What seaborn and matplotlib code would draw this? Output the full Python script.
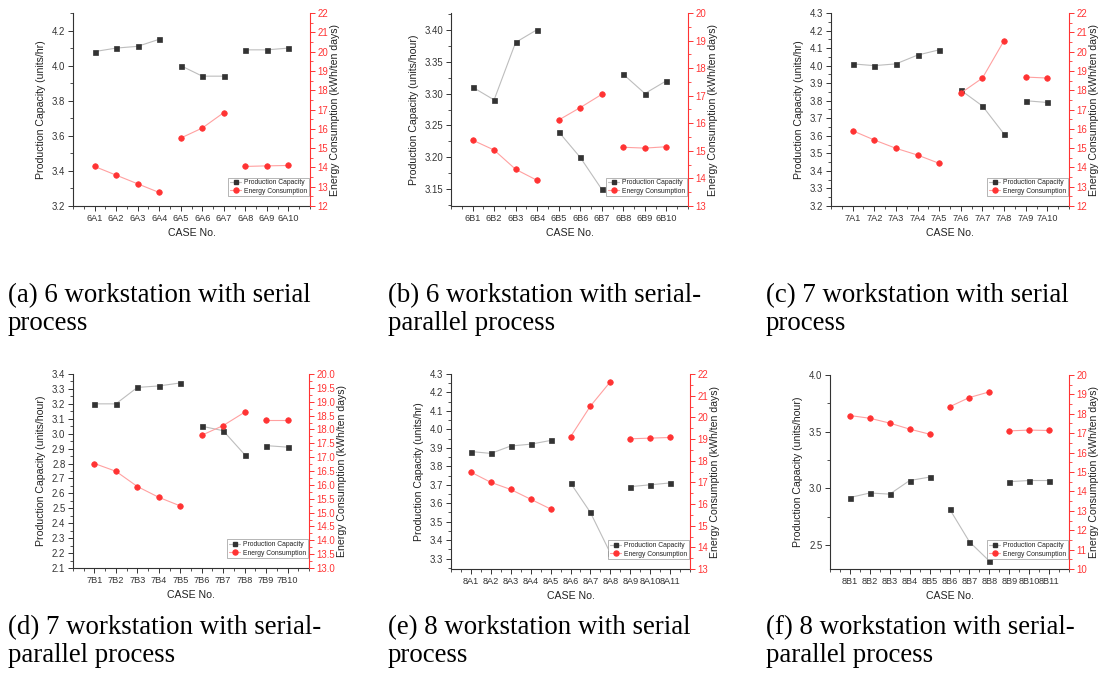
import numpy as np
import pandas as pd
import matplotlib
matplotlib.use("Agg")
import matplotlib.pyplot as plt
import seaborn as sns
from matplotlib.ticker import MultipleLocator, FormatStrFormatter, FixedLocator
from matplotlib.lines import Line2D

sns.set_theme(style="ticks")
plt.rcParams['font.family'] = ['Liberation Sans', 'DejaVu Sans']

# ---------------- data ----------------
cases_a = ["6A1", "6A2", "6A3", "6A4", "6A5", "6A6", "6A7", "6A8", "6A9", "6A10"]
pc_a = [4.08, 4.10, 4.11, 4.15, 4.00, 3.94, 3.94, 4.09, 4.09, 4.10]
ec_a = [14.05, 13.60, 13.15, 12.70, 15.52, 16.04, 16.84, 14.05, 14.08, 14.10]
grp_a = [1, 1, 1, 1, 2, 2, 2, 3, 3, 3]

cases_b = ["6B1", "6B2", "6B3", "6B4", "6B5", "6B6", "6B7", "6B8", "6B9", "6B10"]
pc_b = [3.31, 3.29, 3.38, 3.40, 3.24, 3.20, 3.15, 3.33, 3.30, 3.32]
ec_b = [15.39, 15.03, 14.33, 13.93, 16.12, 16.57, 17.05, 15.13, 15.10, 15.15]
grp_b = [1, 1, 1, 1, 2, 2, 2, 3, 3, 3]

cases_c = ["7A1", "7A2", "7A3", "7A4", "7A5", "7A6", "7A7", "7A8", "7A9", "7A10"]
pc_c = [4.01, 4.00, 4.01, 4.06, 4.09, 3.86, 3.77, 3.61, 3.80, 3.79]
ec_c = [15.90, 15.42, 14.99, 14.64, 14.21, 17.85, 18.63, 20.57, 18.68, 18.63]
grp_c = [1, 1, 1, 1, 1, 2, 2, 2, 3, 3]

cases_d = ["7B1", "7B2", "7B3", "7B4", "7B5", "7B6", "7B7", "7B8", "7B9", "7B10"]
pc_d = [3.20, 3.20, 3.31, 3.32, 3.34, 3.05, 3.02, 2.86, 2.92, 2.91]
ec_d = [16.77, 16.49, 15.94, 15.55, 15.24, 17.79, 18.14, 18.62, 18.33, 18.33]
grp_d = [1, 1, 1, 1, 1, 2, 2, 2, 3, 3]

cases_e = ["8A1", "8A2", "8A3", "8A4", "8A5", "8A6", "8A7", "8A8", "8A9", "8A10", "8A11"]
pc_e = [3.88, 3.87, 3.91, 3.92, 3.94, 3.71, 3.55, 3.33, 3.69, 3.70, 3.71]
ec_e = [17.47, 17.00, 16.67, 16.22, 15.77, 19.10, 20.52, 21.64, 19.01, 19.04, 19.07]
grp_e = [1, 1, 1, 1, 1, 2, 2, 2, 3, 3, 3]

cases_f = ["8B1", "8B2", "8B3", "8B4", "8B5", "8B6", "8B7", "8B8", "8B9", "8B10", "8B11"]
pc_f = [2.92, 2.96, 2.95, 3.07, 3.10, 2.82, 2.53, 2.36, 3.06, 3.07, 3.07]
ec_f = [17.91, 17.77, 17.52, 17.21, 16.95, 18.36, 18.84, 19.13, 17.12, 17.16, 17.14]
grp_f = [1, 1, 1, 1, 1, 2, 2, 2, 3, 3, 3]

pc_labels = ["Production Capacity (units/hr)", "Production Capacity (units/hour)",
             "Production Capacity (units/hr)", "Production Capacity (units/hour)",
             "Production Capacity (units/hr)", "Production Capacity (units/hour)"]
ec_label = "Energy Consumption (kWh/ten days)"
x_label = "CASE No."
captions = ["(a) 6 workstation with serial\nprocess",
            "(b) 6 workstation with serial-\nparallel process",
            "(c) 7 workstation with serial\nprocess",
            "(d) 7 workstation with serial-\nparallel process",
            "(e) 8 workstation with serial\nprocess",
            "(f) 8 workstation with serial-\nparallel process"]
legend_labels = ["Production Capacity", "Energy Consumption"]

# ---------------- layout / style ----------------
W, H = 1098, 673
fig = plt.figure(figsize=(W / 100, H / 100), dpi=100)

def px_axes(l, r, t, b):
    return fig.add_axes([l / W, 1 - b / H, (r - l) / W, (b - t) / H])

panels = [
    dict(cases=cases_a, pc=pc_a, ec=ec_a, grp=grp_a, box=(73, 310, 13, 206),
         ylim=(3.2, 4.3), ystep=0.2, yfmt="%.1f", ylim2=(12, 22), ystep2=1, yfmt2="%d", cap=(8, 283)),
    dict(cases=cases_b, pc=pc_b, ec=ec_b, grp=grp_b, box=(451, 688, 13, 206),
         ylim=(3.124, 3.426), ystep=0.05, yfmt="%.2f", ylim2=(13, 20), ystep2=1, yfmt2="%d", cap=(388, 283)),
    dict(cases=cases_c, pc=pc_c, ec=ec_c, grp=grp_c, box=(831, 1069, 13, 206),
         ylim=(3.2, 4.3), ystep=0.1, yfmt="%.1f", ylim2=(12, 22), ystep2=1, yfmt2="%d", cap=(766, 283)),
    dict(cases=cases_d, pc=pc_d, ec=ec_d, grp=grp_d, box=(73, 309, 374, 568),
         ylim=(2.1, 3.4), ystep=0.1, yfmt="%.1f", ylim2=(13, 20), ystep2=0.5, yfmt2="%.1f", cap=(8, 615)),
    dict(cases=cases_e, pc=pc_e, ec=ec_e, grp=grp_e, box=(451, 690, 374, 569),
         ylim=(3.244, 4.3), ystep=0.1, yfmt="%.1f", ylim2=(13, 22), ystep2=1, yfmt2="%d", cap=(388, 615)),
    dict(cases=cases_f, pc=pc_f, ec=ec_f, grp=grp_f, box=(830, 1069, 375, 569),
         ylim=(2.29, 4.0), ystep=0.5, yfmt="%.1f", ylim2=(10, 20), ystep2=1, yfmt2="%d", cap=(766, 615)),
]

GREY_LINE = "#bdbdbd"
DARK = "#333333"
RED = "#ff3333"
PINK = "#ffa0a0"
TXT = "#222222"
TICK_FS = 6.9
LAB_FS = 7.6

for i, p in enumerate(panels):
    n = len(p["cases"])
    df = pd.DataFrame({"pos": np.arange(1, n + 1), "pc": p["pc"], "ec": p["ec"], "grp": p["grp"]})
    ax = px_axes(*p["box"])
    sns.lineplot(data=df, x="pos", y="pc", units="grp", estimator=None, ax=ax,
                 color=GREY_LINE, lw=0.8, marker="s", markersize=3.6,
                 markerfacecolor=DARK, markeredgecolor=DARK, markeredgewidth=0.5, legend=False)
    ax2 = ax.twinx()
    sns.lineplot(data=df, x="pos", y="ec", units="grp", estimator=None, ax=ax2,
                 color=PINK, lw=0.8, marker="o", markersize=4.0,
                 markerfacecolor=RED, markeredgecolor=RED, markeredgewidth=0.5, legend=False)

    ax.set_xlim(0, n + 1)
    ax.set_ylim(*p["ylim"])
    ax2.set_ylim(*p["ylim2"])
    ax.xaxis.set_major_locator(FixedLocator(np.arange(1, n + 1)))
    ax.set_xticklabels(p["cases"])
    ax.xaxis.set_minor_locator(MultipleLocator(0.5))
    ax.yaxis.set_major_locator(MultipleLocator(p["ystep"]))
    ax.yaxis.set_major_formatter(FormatStrFormatter(p["yfmt"]))
    ax.yaxis.set_minor_locator(MultipleLocator(p["ystep"] / 2))
    ax2.yaxis.set_major_locator(MultipleLocator(p["ystep2"]))
    ax2.yaxis.set_major_formatter(FormatStrFormatter(p["yfmt2"]))
    ax2.yaxis.set_minor_locator(MultipleLocator(p["ystep2"] / 2))

    for a in (ax, ax2):
        a.set_facecolor("none")
        a.spines["top"].set_visible(False)
    ax.spines["right"].set_visible(False)
    ax2.spines["left"].set_visible(False)
    ax2.spines["bottom"].set_visible(False)
    for s in ("left", "bottom"):
        ax.spines[s].set_color(DARK)
        ax.spines[s].set_linewidth(0.8)
    ax2.spines["right"].set_color(RED)
    ax2.spines["right"].set_linewidth(0.8)

    ax.tick_params(axis="both", which="major", direction="out", length=3.5, width=0.7,
                   labelsize=TICK_FS, colors=DARK, pad=2)
    ax.tick_params(axis="x", which="major", labelsize=6.6)
    ax.tick_params(axis="both", which="minor", direction="out", length=2, width=0.6, colors=DARK)
    ax2.tick_params(axis="y", which="major", direction="out", length=3.5, width=0.7,
                    labelsize=TICK_FS, colors=RED, pad=2)
    ax2.tick_params(axis="y", which="minor", direction="out", length=2, width=0.6, colors=RED)

    ax.set_xlabel(x_label, fontsize=LAB_FS, color=TXT, labelpad=4)
    ax.set_ylabel(pc_labels[i], fontsize=LAB_FS, color=TXT, labelpad=4)
    ax2.set_ylabel(ec_label, fontsize=LAB_FS, color=TXT, labelpad=1)

    handles = [
        Line2D([], [], color=GREY_LINE, lw=0.8, marker="s", markersize=3.2,
               markerfacecolor=DARK, markeredgecolor=DARK),
        Line2D([], [], color=PINK, lw=0.8, marker="o", markersize=3.6,
               markerfacecolor=RED, markeredgecolor=RED),
    ]
    leg = ax2.legend(handles, legend_labels, loc="lower right", bbox_to_anchor=(1.0, 0.045),
                     fontsize=4.9, frameon=True,
                     fancybox=False, edgecolor="#999999", framealpha=1, borderpad=0.25,
                     labelspacing=0.2, handlelength=1.7, handletextpad=0.4, borderaxespad=0.15)
    leg.get_frame().set_linewidth(0.5)
    for t in leg.get_texts():
        t.set_color(TXT)

    cx, cy = p["cap"]
    fig.text(cx / W, 1 - cy / H, captions[i], ha="left", va="top", fontsize=19.4,
             family=["Liberation Serif", "DejaVu Serif"], color="#000000", linespacing=1.18)

fig.savefig("out.png", dpi=100, facecolor="white")
